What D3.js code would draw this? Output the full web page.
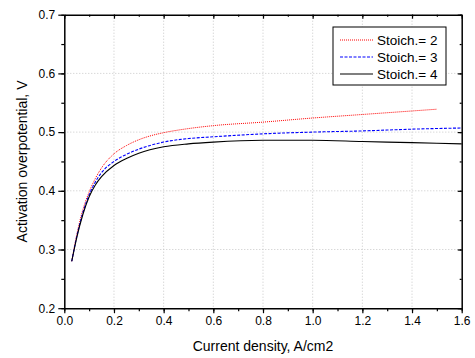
<!DOCTYPE html>
<html><head><meta charset="utf-8">
<script src="https://cdn.jsdelivr.net/npm/d3@7"></script>
<style>body{margin:0;background:#fff}svg{font-family:"Liberation Sans",Arial,sans-serif}</style>
</head><body><svg id="c" width="475" height="358"></svg>
<script>
const xRed = [0.03,0.05,0.075,0.1,0.125,0.15,0.2,0.25,0.3,0.35,0.4,0.5,0.6,0.8,1.0,1.2,1.4,1.5];
const yRed = [0.28,0.325,0.368,0.398,0.421,0.439,0.463,0.477,0.487,0.494,0.499,0.506,0.511,0.517,0.524,0.530,0.536,0.539];
const xBlue = [0.03,0.05,0.075,0.1,0.125,0.15,0.2,0.25,0.3,0.4,0.5,0.6,0.8,1.0,1.2,1.4,1.6];
const yBlue = [0.28,0.322,0.363,0.393,0.415,0.431,0.450,0.462,0.471,0.483,0.489,0.492,0.497,0.500,0.502,0.505,0.507];
const xBlack = [0.03,0.05,0.075,0.1,0.125,0.15,0.2,0.25,0.3,0.4,0.5,0.6,0.8,1.0,1.2,1.4,1.6];
const yBlack = [0.28,0.32,0.36,0.39,0.41,0.424,0.443,0.455,0.464,0.475,0.480,0.483,0.486,0.486,0.484,0.482,0.480];
const seriesNames = ["Stoich.= 2","Stoich.= 3","Stoich.= 4"];
const xTicks = [0,0.2,0.4,0.6,0.8,1.0,1.2,1.4,1.6];
const yTicks = [0.2,0.3,0.4,0.5,0.6,0.7];

const svg = d3.select("#c");
const L=64.3, R=461.7, T=14.7, B=308.2;
const x = d3.scaleLinear().domain([0,1.6]).range([L,R]);
const y = d3.scaleLinear().domain([0.2,0.7]).range([B,T]);

// grid
const g = svg.append("g");
xTicks.slice(1,-1).forEach(v=>g.append("line").attr("x1",x(v)).attr("x2",x(v)).attr("y1",T).attr("y2",B)
  .attr("stroke","#c8c8c8").attr("stroke-dasharray","1,2"));
yTicks.slice(1,-1).forEach(v=>g.append("line").attr("y1",y(v)).attr("y2",y(v)).attr("x1",L).attr("x2",R)
  .attr("stroke","#c8c8c8").attr("stroke-dasharray","1,2"));

const minorX = d3.range(0,1.61,0.1);
const minorY = d3.range(0.2,0.701,0.05);

// bottom axis
svg.append("g").attr("transform",`translate(0,${B})`)
  .call(d3.axisBottom(x).tickValues(xTicks).tickFormat(d3.format(".1f")).tickSizeInner(5).tickSizeOuter(0));
svg.append("g").attr("transform",`translate(0,${B})`)
  .call(d3.axisBottom(x).tickValues(minorX).tickFormat("").tickSizeInner(3).tickSizeOuter(0)).select(".domain").remove();
// left axis
svg.append("g").attr("transform",`translate(${L},0)`)
  .call(d3.axisLeft(y).tickValues(yTicks).tickFormat(d3.format(".1f")).tickSizeInner(6).tickSizeOuter(0));
svg.append("g").attr("transform",`translate(${L},0)`)
  .call(d3.axisLeft(y).tickValues(minorY).tickFormat("").tickSizeInner(3).tickSizeOuter(0)).select(".domain").remove();
// top axis (inward ticks)
svg.append("g").attr("transform",`translate(0,${T})`)
  .call(d3.axisBottom(x).tickValues(xTicks).tickFormat("").tickSizeInner(4).tickSizeOuter(0));
svg.append("g").attr("transform",`translate(0,${T})`)
  .call(d3.axisBottom(x).tickValues(minorX).tickFormat("").tickSizeInner(2).tickSizeOuter(0)).select(".domain").remove();
// right axis (inward ticks)
svg.append("g").attr("transform",`translate(${R},0)`)
  .call(d3.axisLeft(y).tickValues(yTicks).tickFormat("").tickSizeInner(4).tickSizeOuter(0));
svg.append("g").attr("transform",`translate(${R},0)`)
  .call(d3.axisLeft(y).tickValues(minorY).tickFormat("").tickSizeInner(2).tickSizeOuter(0)).select(".domain").remove();

svg.selectAll(".domain").attr("stroke","#000").attr("stroke-width",1.5);
svg.selectAll(".tick line").attr("stroke","#000").attr("stroke-width",1.2);
svg.selectAll(".tick text").attr("font-size",12).attr("fill","#000").attr("font-family","Liberation Sans, Arial, sans-serif");

// lines
const line = d3.line().x(d=>x(d[0])).y(d=>y(d[1])).curve(d3.curveMonotoneX);
const styles = [
  {c:"#ff0000",w:1,dash:"1,1"},
  {c:"#0000ff",w:1.1,dash:"3,1.5"},
  {c:"#000000",w:1.1,dash:null}
];
const data = [d3.zip(xRed,yRed), d3.zip(xBlue,yBlue), d3.zip(xBlack,yBlack)];
data.forEach((d,i)=>{
  svg.append("path").attr("d",line(d)).attr("fill","none").attr("stroke",styles[i].c)
    .attr("stroke-width",styles[i].w).attr("stroke-dasharray",styles[i].dash);
});

// legend
const lg = svg.append("g");
lg.append("rect").attr("x",333).attr("y",27).attr("width",113).attr("height",58)
  .attr("fill","#fff").attr("stroke","#000").attr("stroke-width",1);
seriesNames.forEach((n,i)=>{
  const yy = 40 + i*17;
  lg.append("line").attr("x1",340).attr("x2",373).attr("y1",yy).attr("y2",yy)
    .attr("stroke",styles[i].c).attr("stroke-width",styles[i].w).attr("stroke-dasharray",styles[i].dash);
  lg.append("text").attr("x",377).attr("y",yy+5).attr("font-size",13.5).text(n);
});

// axis labels
svg.append("text").attr("x",(L+R)/2).attr("y",351).attr("text-anchor","middle").attr("font-size",14).text("Current density, A/cm2");
svg.append("text").attr("transform",`translate(27,${(T+B)/2}) rotate(-90)`).attr("text-anchor","middle").attr("font-size",14).text("Activation overpotential, V");
</script></body></html>
